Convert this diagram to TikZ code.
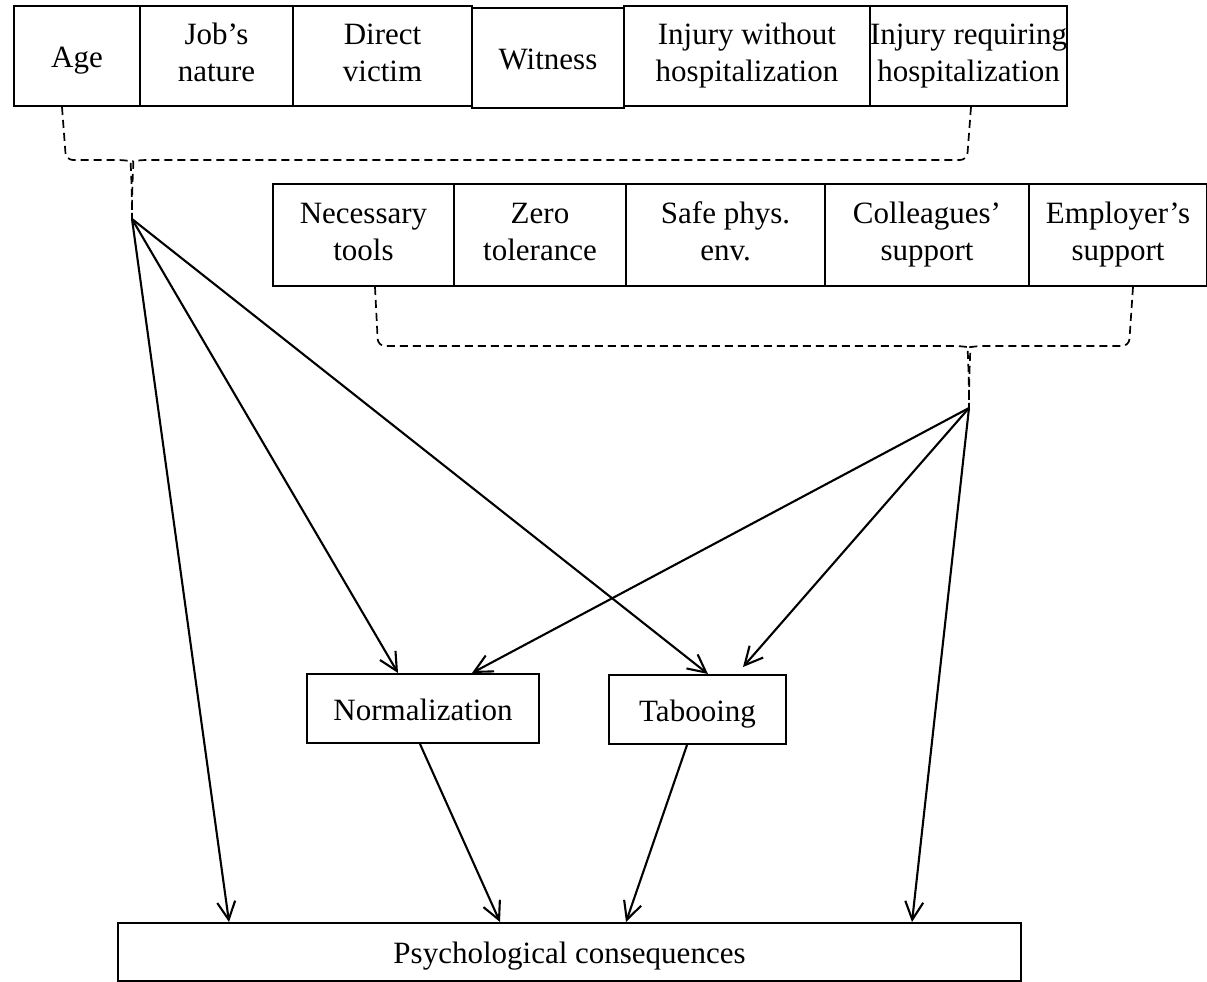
\documentclass[tikz,border=0pt]{standalone}
\usepackage{fontspec}
\setmainfont{Liberation Serif}
\usetikzlibrary{arrows.meta}

% strut that keeps each label visually centred in its box
\newcommand{\boxstrut}{\rule[-7pt]{0pt}{37pt}}

\begin{document}
\begin{tikzpicture}[
    x=1pt, y=-1pt,
    box/.style={draw, line width=2pt, inner sep=0pt, anchor=north west,
      align=center, font=\fontsize{31}{37}\selectfont,
      execute at begin node=\boxstrut, execute at end node=\boxstrut},
    brace/.style={line width=1.7pt, dash pattern=on 8pt off 5pt, rounded corners=7pt},
    link/.style={line width=2.1pt, -{Straight Barb[length=18pt,width=18pt]}}
  ]
  \useasboundingbox (0,0) rectangle (1207,982);

  % factors (top row)
  \node[box, minimum width=126pt, minimum height=100pt] (age)     at (13,5)  {Age};
  \node[box, minimum width=153pt, minimum height=100pt] (job)     at (139,5) {Job’s\\nature};
  \node[box, minimum width=179pt, minimum height=100pt] (direct)  at (292,5) {Direct\\victim};
  \node[box, minimum width=152pt, minimum height=100pt] (witness) at (471,7) {Witness};
  \node[box, minimum width=246pt, minimum height=100pt] (injwo)   at (623,5) {Injury without\\hospitalization};
  \node[box, minimum width=196pt, minimum height=100pt] (injreq)  at (869,5) {Injury requiring\\hospitalization};

  % organisational factors (second row)
  \node[box, minimum width=181pt, minimum height=102pt] (tools) at (272,183)  {Necessary\\tools};
  \node[box, minimum width=172pt, minimum height=102pt] (zero)  at (453,183)  {Zero\\tolerance};
  \node[box, minimum width=199pt, minimum height=102pt] (safe)  at (625,183)  {Safe phys.\\env.};
  \node[box, minimum width=204pt, minimum height=102pt] (coll)  at (824,183)  {Colleagues’\\support};
  \node[box, minimum width=178pt, minimum height=102pt] (empl)  at (1028,183) {Employer’s\\support};

  % mediators and outcome
  \node[box, minimum width=232pt, minimum height=69pt] (norm)  at (306,673) {Normalization};
  \node[box, minimum width=177pt, minimum height=69pt] (tab)   at (608,674) {Tabooing};
  \node[box, minimum width=903pt, minimum height=58pt] (psych) at (117,922) {Psychological consequences};

  % brace tips
  \coordinate (t1) at (132,219);
  \coordinate (t2) at (969,408);

  % dashed braces grouping the boxes
  \draw[brace] ([xshift=49pt]age.south west) -- (66,160) -- (124,160)
    .. controls (130,161) and (132,175) .. (t1);
  \draw[brace] ([xshift=102pt]injreq.south west) -- (967,160) -- (140,160)
    .. controls (134,161) and (132,175) .. (t1);
  \draw[brace] ([xshift=103pt]tools.south west) -- (378,346) -- (961,346)
    .. controls (967,347) and (969,362) .. (t2);
  \draw[brace] ([xshift=105pt]empl.south west) -- (1129,346) -- (977,346)
    .. controls (971,347) and (969,362) .. (t2);

  % effects
  \draw[link] (t1) -- ([xshift=112pt]psych.north west);
  \draw[link] (t1) -- ([xshift=92pt]norm.north west);
  \draw[link] (t1) -- ([xshift=100pt]tab.north west);
  \draw[link] (t2) -- ([xshift=166pt]norm.north west);
  \draw[link] (t2) -- ([xshift=135pt,yshift=7pt]tab.north west);
  \draw[link] (t2) -- ([xshift=795pt]psych.north west);
  \draw[link] ([xshift=114pt]norm.south west) -- ([xshift=383pt]psych.north west);
  \draw[link] ([xshift=79pt]tab.south west) -- ([xshift=509pt]psych.north west);
\end{tikzpicture}
\end{document}
